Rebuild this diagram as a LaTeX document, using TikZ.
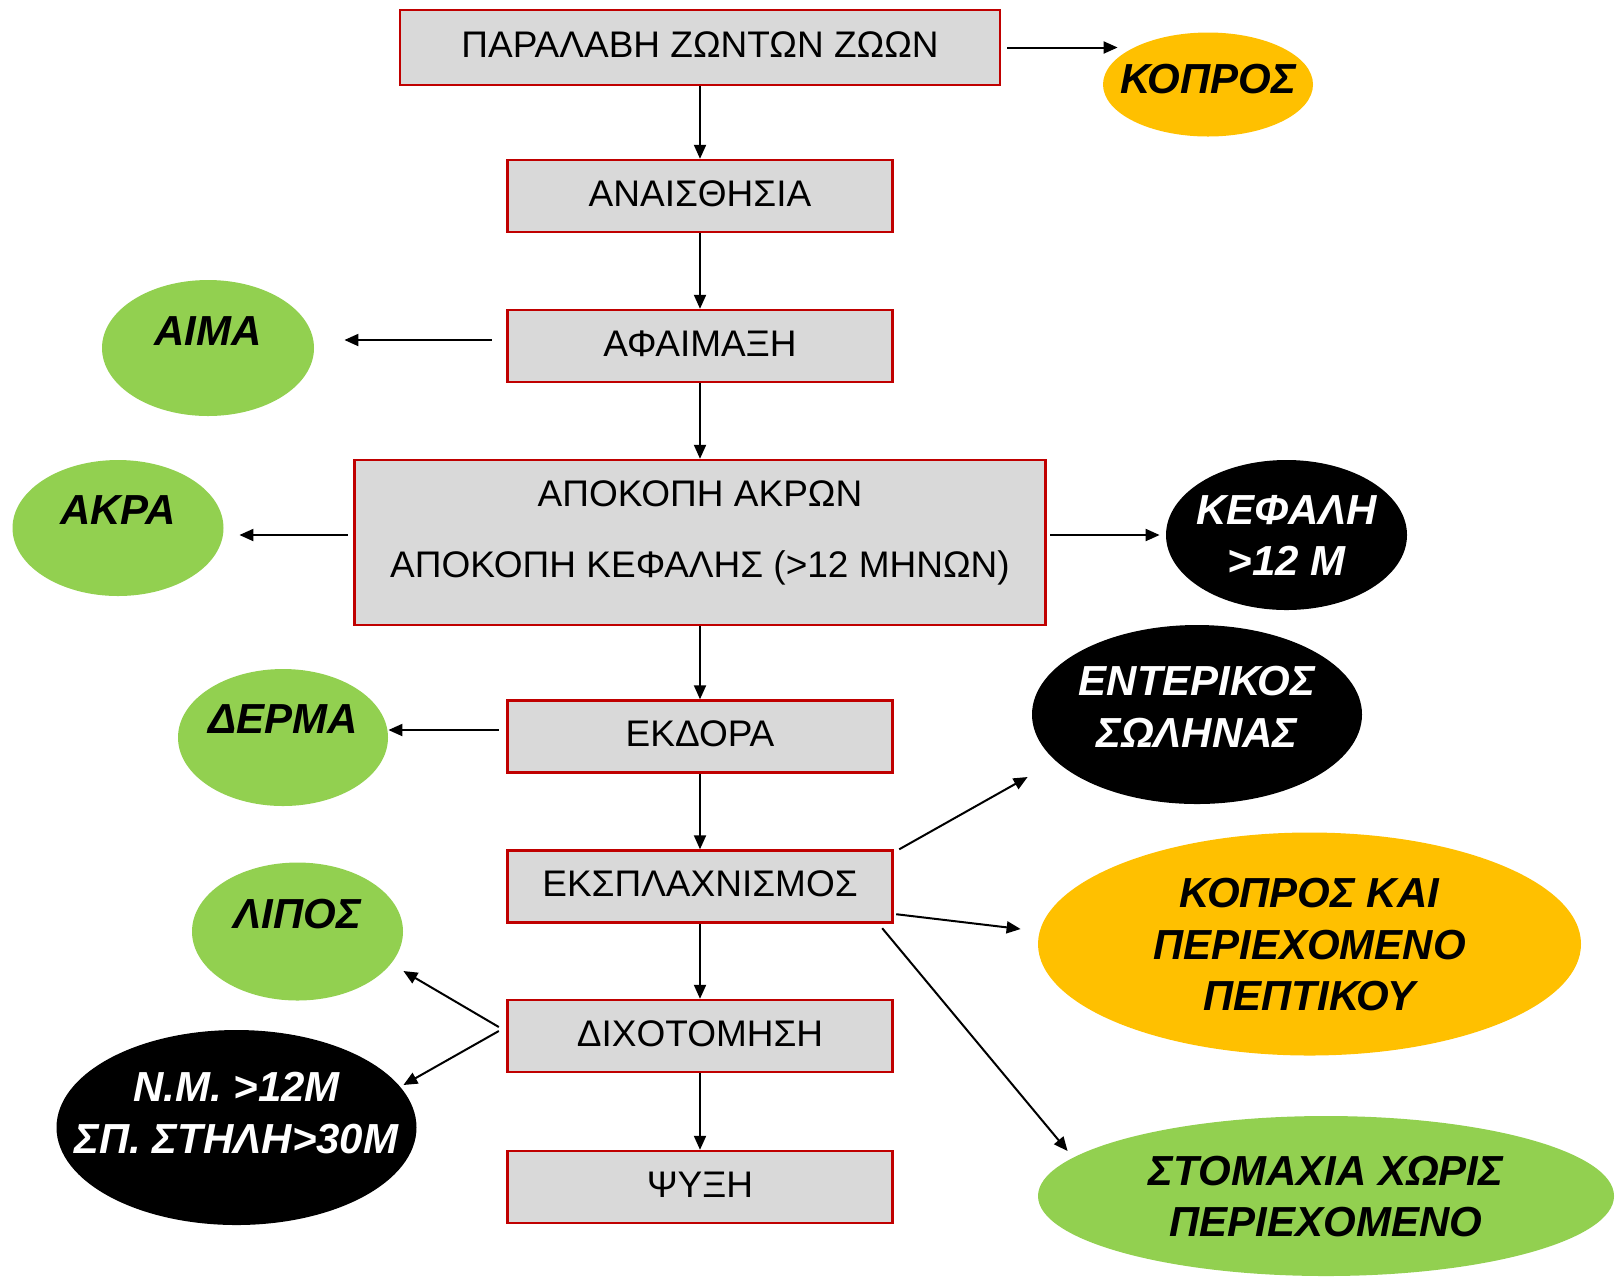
\documentclass[tikz,border=0pt]{standalone}
\usepackage{fontspec}
\setmainfont{Liberation Sans}
\usetikzlibrary{shapes.geometric,arrows.meta,calc}
\definecolor{boxfill}{HTML}{D9D9D9}
\definecolor{boxred}{HTML}{C00000}
\definecolor{lgreen}{HTML}{92D050}
\definecolor{lorange}{HTML}{FFC000}
\newcommand{\btxt}[2]{\raisebox{#1}[0pt][0pt]{\makebox[0pt]{\begin{tabular}[b]{@{}c@{}}#2\end{tabular}}}}
\tikzset{
 proc/.style={rectangle, draw=boxred, fill=boxfill, line width=1.2pt, inner sep=0pt,
   minimum width=192.5pt, minimum height=36pt, font=\fontsize{18.5}{22.2}\selectfont},
 outn/.style={ellipse, inner sep=0pt, font=\fontsize{21}{25.6}\selectfont\bfseries\itshape},
 gout/.style={outn, fill=lgreen, text=black},
 oout/.style={outn, fill=lorange, text=black},
 bout/.style={outn, fill=black, text=white},
 arr/.style={-{Triangle[length=7pt,width=6pt]}, line width=1pt},
}
\begin{document}
\begin{tikzpicture}[x=0.5pt,y=-0.5pt]
\useasboundingbox (0,0) rectangle (1620,1276);
% process boxes
\node[proc, minimum width=300pt, minimum height=37.5pt] (b1) at (700,47.5) {\btxt{-5.1pt}{ΠΑΡΑΛΑΒΗ ΖΩΝΤΩΝ ΖΩΩΝ}};
\node[proc] (b2) at (700,196) {\btxt{-5.1pt}{ΑΝΑΙΣΘΗΣΙΑ}};
\node[proc] (b3) at (700,346) {\btxt{-5.1pt}{ΑΦΑΙΜΑΞΗ}};
\node[proc, minimum width=345.5pt, minimum height=82.5pt] (b4) at (700,542.5) {\btxt{-17.35pt}{ΑΠΟΚΟΠΗ ΑΚΡΩΝ\\[13.3pt]ΑΠΟΚΟΠΗ ΚΕΦΑΛΗΣ (>12 ΜΗΝΩΝ)}};
\node[proc] (b5) at (700,736.5) {\btxt{-5.1pt}{ΕΚΔΟΡΑ}};
\node[proc] (b6) at (700,886.5) {\btxt{-5.1pt}{ΕΚΣΠΛΑΧΝΙΣΜΟΣ}};
\node[proc] (b7) at (700,1036) {\btxt{-5.1pt}{ΔΙΧΟΤΟΜΗΣΗ}};
\node[proc] (b8) at (700,1187) {\btxt{-5.1pt}{ΨΥΞΗ}};
% outputs
\node[oout, minimum width=105pt, minimum height=52pt] (kopros) at (1208,84.5) {\btxt{-4.5pt}{ΚΟΠΡΟΣ}};
\node[gout, minimum width=106pt, minimum height=68pt] (aima) at (208,348) {\btxt{1.5pt}{ΑΙΜΑ}};
\node[gout, minimum width=105.5pt, minimum height=68pt] (akra) at (118,528) {\btxt{2pt}{ΑΚΡΑ}};
\node[bout, minimum width=120.5pt, minimum height=75pt] (kefali) at (1286.5,535) {\btxt{-20.3pt}{ΚΕΦΑΛΗ\\>12 Μ}};
\node[gout, minimum width=105pt, minimum height=68.5pt] (derma) at (283,737.5) {\btxt{2pt}{ΔΕΡΜΑ}};
\node[bout, minimum width=165pt, minimum height=89.5pt] (enter) at (1197,714.5) {\btxt{-16.3pt}{ΕΝΤΕΡΙΚΟΣ\\ΣΩΛΗΝΑΣ}};
\node[oout, minimum width=271.5pt, minimum height=111.5pt] (kopros2) at (1309.5,944) {\btxt{-33.1pt}{ΚΟΠΡΟΣ ΚΑΙ\\ΠΕΡΙΕΧΟΜΕΝΟ\\ΠΕΠΤΙΚΟΥ}};
\node[gout, minimum width=105.5pt, minimum height=69pt] (lipos) at (297.5,931.5) {\btxt{1.5pt}{ΛΙΠΟΣ}};
\node[bout, minimum width=180pt, minimum height=97.5pt] (nm) at (236.5,1127.5) {\btxt{-12.8pt}{Ν.Μ. >12Μ\\ΣΠ. ΣΤΗΛΗ>30Μ}};
\node[gout, minimum width=288pt, minimum height=80pt] (stom) at (1326,1196) {\btxt{-20.3pt}{ΣΤΟΜΑΧΙΑ ΧΩΡΙΣ\\ΠΕΡΙΕΧΟΜΕΝΟ}};
% main flow
\draw[arr] (b1) -- (b2);
\draw[arr] (b2) -- (b3);
\draw[arr] (b3) -- (b4);
\draw[arr] (b4) -- (b5);
\draw[arr] (b5) -- (b6);
\draw[arr] (b6) -- (b7);
\draw[arr] (b7) -- (b8);
% side outputs
\draw[arr] ([xshift=3pt]b1.east) -- ($(b1.east -| kopros.west)+(7.5pt,0pt)$);
\draw[arr] ([shift={(-7.25pt,3pt)}]b3.west) -- ($(b3.west -| aima.east)+(15pt,3pt)$);
\draw[arr] ([shift={(-2.75pt,3.75pt)}]b4.west) -- ($(b4.west -| akra.east)+(7.75pt,3.75pt)$);
\draw[arr] ([shift={(1.75pt,3.75pt)}]b4.east) -- ($(b4.east -| kefali.west)+(-3pt,3.75pt)$);
\draw[arr] ([shift={(-3.75pt,3.25pt)}]b5.west) -- ($(b5.west -| derma.east)+(0pt,3.25pt)$);
\draw[arr] ([shift={(2.75pt,0pt)}]b6.north east) -- ([shift={(-2pt,-31.25pt)}]enter.west);
\draw[arr] ([shift={(1.25pt,4.75pt)}]b6.south east) -- ([shift={(-8.5pt,7.5pt)}]kopros2.west);
\draw[arr] ([shift={(-5.75pt,-2.25pt)}]b6.south east) -- ([shift={(15pt,22.5pt)}]stom.west);
\draw[arr] ([shift={(-3.75pt,4.5pt)}]b7.west) -- ([shift={(0pt,-19.75pt)}]lipos.east);
\draw[arr] ([shift={(-3.75pt,2.5pt)}]b7.west) -- ([shift={(-6.75pt,21.25pt)}]nm.east);
\end{tikzpicture}
\end{document}
